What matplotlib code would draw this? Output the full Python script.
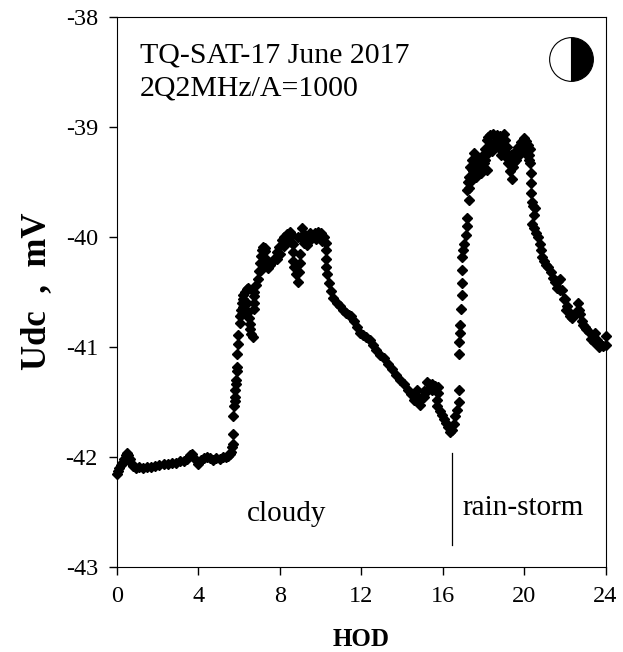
import matplotlib
matplotlib.use('Agg')
import matplotlib.pyplot as plt

plt.rcParams['font.family'] = ['Liberation Serif', 'DejaVu Serif']
plt.rcParams['axes.unicode_minus'] = False

# values: (hour of day, Udc in mV)
night = [(0.0, -42.15), (0.05, -42.13), (0.12, -42.1), (0.2, -42.07), (0.28, -42.05), (0.36, -42.02), (0.44, -41.98),
         (0.5, -41.96), (0.56, -41.98), (0.64, -42.02), (0.72, -42.05), (0.82, -42.08), (0.95, -42.1), (1.1, -42.09),
         (1.3, -42.1), (1.5, -42.09), (1.7, -42.09), (1.9, -42.08), (2.1, -42.07), (2.3, -42.06), (2.5, -42.06),
         (2.7, -42.05), (2.9, -42.05), (3.1, -42.04), (3.3, -42.04), (3.45, -42.02), (3.6, -41.98), (3.72, -41.97),
         (3.85, -42.02), (4.0, -42.06), (4.15, -42.03), (4.3, -42.01), (4.45, -42.0), (4.6, -42.01), (4.75, -42.03),
         (4.9, -42.01), (5.05, -42.02), (5.2, -42.0), (5.35, -42.0), (5.45, -41.99), (5.55, -41.97), (5.62, -41.95),
         (5.68, -41.91), (5.72, -41.88)]
sunrise = [(5.73, -41.79), (5.73, -41.63), (5.78, -41.54), (5.8, -41.49), (5.82, -41.45), (5.83, -41.39),
           (5.85, -41.34), (5.88, -41.3), (5.9, -41.22), (5.9, -41.18), (5.93, -41.06), (5.95, -40.97),
           (5.98, -40.89), (6.03, -40.78), (6.06, -40.72), (6.1, -40.66), (6.14, -40.6), (6.18, -40.56),
           (6.22, -40.53), (6.3, -40.5), (6.38, -40.47), (6.47, -40.46), (6.15, -40.7), (6.2, -40.64), (6.3, -40.6)]
first_dip = [(6.4, -40.6), (6.45, -40.68), (6.5, -40.74), (6.53, -40.79), (6.56, -40.84), (6.6, -40.88), (6.68, -40.91),
             (6.72, -40.65), (6.75, -40.6), (6.72, -40.54), (6.75, -40.5)]
forenoon = [(6.85, -40.44), (6.92, -40.38), (7.0, -40.31), (7.05, -40.24), (7.1, -40.17), (7.15, -40.12), (7.2, -40.09),
            (7.26, -40.13), (7.3, -40.19), (7.38, -40.24), (7.45, -40.28), (7.55, -40.25), (7.65, -40.22),
            (7.78, -40.19), (7.88, -40.14), (7.98, -40.09), (8.1, -40.03), (8.22, -40.0), (8.35, -39.97),
            (8.52, -39.95), (8.6, -39.98), (8.68, -40.06), (8.66, -40.14), (8.66, -40.22), (8.7, -40.27),
            (8.78, -40.34), (8.88, -40.41), (8.95, -40.32), (8.98, -40.24), (9.0, -40.15), (9.05, -40.0),
            (9.1, -39.92), (9.2, -39.97), (9.33, -40.07), (9.42, -40.0), (9.5, -39.96), (9.62, -39.98),
            (9.75, -39.96), (9.9, -39.95), (10.05, -39.96), (10.18, -40.0), (10.3, -40.05),
            (7.1, -40.3), (7.2, -40.25), (7.3, -40.1), (7.85, -40.2), (8.0, -40.15), (8.2, -40.08), (8.4, -40.03),
            (8.6, -40.05), (8.9, -40.0), (9.2, -40.05), (9.5, -40.03), (9.8, -40.02), (10.1, -40.04)]
decline = [(10.26, -40.12), (10.28, -40.2), (10.3, -40.27), (10.33, -40.34), (10.4, -40.42), (10.5, -40.49),
           (10.64, -40.55), (10.8, -40.6), (10.95, -40.63), (11.1, -40.66), (11.25, -40.69), (11.4, -40.71),
           (11.5, -40.72), (11.65, -40.76), (11.8, -40.82), (11.95, -40.87), (12.1, -40.89), (12.25, -40.91),
           (12.45, -40.94), (12.6, -40.98), (12.75, -41.03), (12.95, -41.07), (13.1, -41.1), (13.3, -41.15),
           (13.5, -41.2), (13.7, -41.25), (13.92, -41.3), (14.1, -41.34), (14.3, -41.39), (14.45, -41.43),
           (14.58, -41.48), (14.66, -41.44), (14.74, -41.39), (14.82, -41.46), (14.9, -41.53), (15.0, -41.46),
           (15.1, -41.4), (15.23, -41.32), (15.35, -41.34), (15.5, -41.34), (15.65, -41.35), (15.8, -41.36),
           (15.1, -41.45), (15.3, -41.39), (15.5, -41.39)]
storm_dip = [(15.76, -41.42), (15.74, -41.48), (15.75, -41.54), (15.85, -41.58), (15.95, -41.62), (16.05, -41.65),
             (16.15, -41.69), (16.25, -41.73), (16.38, -41.77), (16.48, -41.75), (16.55, -41.7), (16.63, -41.63),
             (16.7, -41.57), (16.82, -41.5), (16.79, -41.39)]
storm_rise = [(16.82, -41.06), (16.83, -40.95), (16.85, -40.87), (16.87, -40.8), (16.92, -40.65), (16.94, -40.53),
              (16.95, -40.42), (16.96, -40.3), (16.94, -40.18), (17.0, -40.12), (17.06, -40.06), (17.13, -39.98),
              (17.18, -39.9), (17.2, -39.83), (17.28, -39.66), (17.22, -39.57), (17.26, -39.5), (17.3, -39.45)]
storm_peak = [(17.36, -39.36), (17.45, -39.3), (17.52, -39.24), (17.6, -39.4), (17.68, -39.36), (17.75, -39.32),
              (17.85, -39.34), (17.95, -39.3), (18.05, -39.33), (18.2, -39.39), (18.15, -39.25), (18.17, -39.12),
              (18.25, -39.09), (18.35, -39.07), (18.5, -39.06), (18.65, -39.07), (18.8, -39.08), (19.0, -39.06),
              (19.08, -39.12), (19.16, -39.18), (19.25, -39.26), (19.32, -39.34), (19.4, -39.47), (19.45, -39.36),
              (19.5, -39.24), (19.6, -39.22), (19.72, -39.18), (19.85, -39.14), (20.0, -39.1), (20.1, -39.13),
              (20.2, -39.16), (20.3, -39.2), (20.3, -39.33),
              (17.3, -39.55), (17.4, -39.45), (17.5, -39.4), (17.6, -39.3), (17.7, -39.28), (17.8, -39.4),
              (17.9, -39.42), (18.0, -39.25), (18.1, -39.2), (18.3, -39.18), (18.4, -39.15), (18.6, -39.13),
              (18.8, -39.15), (18.9, -39.2), (19.05, -39.25), (19.2, -39.33), (19.35, -39.25), (19.6, -39.3),
              (19.8, -39.22), (20.0, -39.2), (20.15, -39.25), (20.25, -39.3),
              (17.35, -39.5), (17.45, -39.38), (17.55, -39.32), (17.65, -39.45), (17.75, -39.4), (17.9, -39.35),
              (18.0, -39.38), (18.1, -39.3), (18.25, -39.2), (18.45, -39.22), (18.7, -39.18), (18.85, -39.25),
              (19.0, -39.2), (19.15, -39.28), (19.3, -39.4), (19.5, -39.32), (19.7, -39.26), (19.9, -39.2),
              (20.1, -39.2), (20.25, -39.25)]
evening = [(20.32, -39.42), (20.34, -39.51), (20.36, -39.6), (20.38, -39.68), (20.42, -39.72), (20.55, -39.74),
           (20.48, -39.8), (20.4, -39.88), (20.5, -39.92), (20.6, -39.96), (20.7, -40.0), (20.78, -40.06),
           (20.85, -40.12), (20.9, -40.18), (21.0, -40.22), (21.1, -40.25), (21.2, -40.27), (21.32, -40.32),
           (21.44, -40.37), (21.54, -40.41), (21.66, -40.4), (21.78, -40.38), (21.88, -40.48), (22.0, -40.56),
           (22.1, -40.63), (22.2, -40.68), (22.36, -40.74), (22.48, -40.7), (22.63, -40.6), (22.75, -40.7),
           (22.9, -40.8), (23.05, -40.84), (23.2, -40.86), (23.3, -40.93), (23.4, -40.9), (23.5, -40.87),
           (23.6, -40.94), (23.75, -40.97), (23.9, -40.99), (24.0, -40.98), (24.0, -40.9),
           (21.6, -40.46), (21.75, -40.48), (21.95, -40.56), (22.05, -40.66), (22.25, -40.72), (22.55, -40.68),
           (22.7, -40.66), (22.85, -40.76), (23.0, -40.82), (23.45, -40.95), (23.7, -41.0)]
segments = [night, sunrise, first_dip, forenoon, decline, storm_dip, storm_rise, storm_peak, evening]
x_ticks = [0, 4, 8, 12, 16, 20, 24]
y_ticks = [-43, -42, -41, -40, -39, -38]

fig = plt.figure(figsize=(6.23, 6.52), dpi=100)
ax = fig.add_axes([116.7 / 623, 1 - 567 / 652, (605.5 - 116.7) / 623, 550 / 652])

for seg in segments:
    ax.plot([p[0] for p in seg], [p[1] for p in seg], linestyle='none', marker='D', ms=5.2,
            color='black', clip_on=False)

ax.set_xlim(0, 24)
ax.set_ylim(-43, -38)
ax.set_xticks(x_ticks)
ax.set_yticks(y_ticks)
ax.tick_params(direction='out', length=5.5, width=1, labelsize=17.5, pad=8)
ax.set_xlabel('HOD', fontsize=18, fontweight='bold', labelpad=15)
fig.text(37 / 623, 1 - 291.5 / 652, 'Udc  ,  mV', fontsize=25, fontweight='bold', rotation=90,
         ha='center', va='center')

ax.text(1.15, -38.41, 'TQ-SAT-17 June 2017', fontsize=21.5, va='baseline')
ax.text(1.15, -38.71, '2Q2MHz/A=1000', fontsize=21.5, va='baseline')
ax.text(6.4, -42.52, 'cloudy', fontsize=21, va='center')
ax.text(17.0, -42.46, 'rain-storm', fontsize=21, va='center')
ax.plot([16.48, 16.48], [-41.96, -42.8], color='black', lw=0.9)

# half filled moon symbol
ax.plot([22.32], [-38.38], marker='o', ms=31.5, fillstyle='right', mfc='black',
        markerfacecoloralt='white', mec='black', mew=0.8)

fig.savefig('out.png', dpi=100)
